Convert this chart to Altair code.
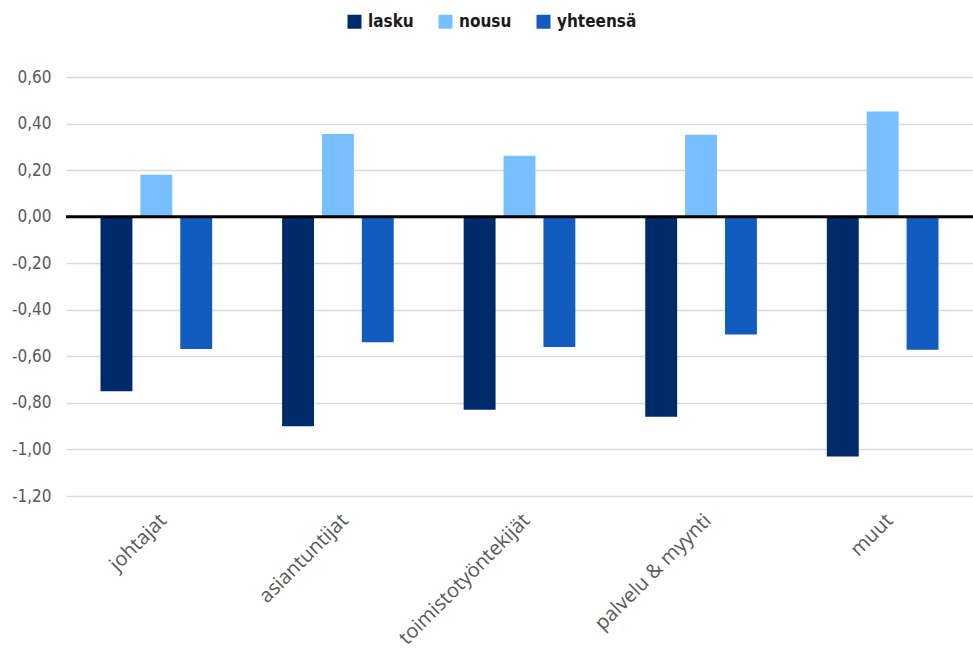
import altair as alt
import pandas as pd

# Occupational groups and the three series (change values)
categories = ["johtajat", "asiantuntijat", "toimistotyöntekijät", "palvelu & myynti", "muut"]
series = ["lasku", "nousu", "yhteensä"]
lasku = [-0.75, -0.90, -0.83, -0.86, -1.03]
nousu = [0.18, 0.355, 0.262, 0.352, 0.452]
yhteensa = [-0.568, -0.54, -0.56, -0.506, -0.572]
colors = ["#002B6B", "#77BFFF", "#125CC0"]

rows = []
for i, c in enumerate(categories):
    for s, vals in zip(series, [lasku, nousu, yhteensa]):
        rows.append({"ryhmä": c, "sarja": s, "arvo": vals[i]})
df = pd.DataFrame(rows)

narrow = "Liberation Sans Narrow, DejaVu Sans Condensed, sans-serif"

y_label = ("(datum.value < -0.0001 ? '-' : '') + "
           "replace(format(abs(datum.value), '.2f'), '.', ',')")

bars = alt.Chart(df).mark_bar().encode(
    x=alt.X("ryhmä:N", sort=categories, title=None,
            scale=alt.Scale(paddingInner=0.385, paddingOuter=0.19),
            axis=alt.Axis(labelAngle=-45, labelFont="Open Sans", labelFontSize=20,
                          labelColor="#595959", domain=False, ticks=False,
                          labelPadding=14, grid=False)),
    xOffset=alt.XOffset("sarja:N", sort=series,
                        scale=alt.Scale(paddingInner=0.2, paddingOuter=0)),
    y=alt.Y("arvo:Q", title=None,
            scale=alt.Scale(domain=[-1.2, 0.6], nice=False),
            axis=alt.Axis(values=[-1.2, -1.0, -0.8, -0.6, -0.4, -0.2, 0, 0.2, 0.4, 0.6],
                          labelExpr=y_label, labelFont=narrow, labelFontSize=17,
                          labelColor="#595959", domain=False, ticks=False,
                          labelPadding=15, grid=True, gridColor="#D9D9D9",
                          gridWidth=1.5)),
    color=alt.Color("sarja:N", sort=series,
                    scale=alt.Scale(domain=series, range=colors),
                    legend=alt.Legend(title=None, orient="none", direction="horizontal",
                                      legendX=280, legendY=-64,
                                      symbolType="square", symbolSize=196,
                                      symbolStrokeWidth=0, labelFont=narrow,
                                      labelFontSize=17, labelFontWeight="bold",
                                      labelColor="#1A1A1A", labelOffset=5,
                                      columnPadding=23)),
)

zero = alt.Chart(pd.DataFrame({"y": [0]})).mark_rule(color="#000000", strokeWidth=3).encode(
    y="y:Q"
)

chart = (bars + zero).properties(
    width=907, height=419,
    autosize=alt.AutoSizeParams(type="none"),
    padding={"left": 66, "top": 77, "right": 0, "bottom": 156},
    background="#FFFFFF",
).configure_view(stroke=None)

chart.save("out.html", embed_options={"renderer": "svg", "actions": False})
